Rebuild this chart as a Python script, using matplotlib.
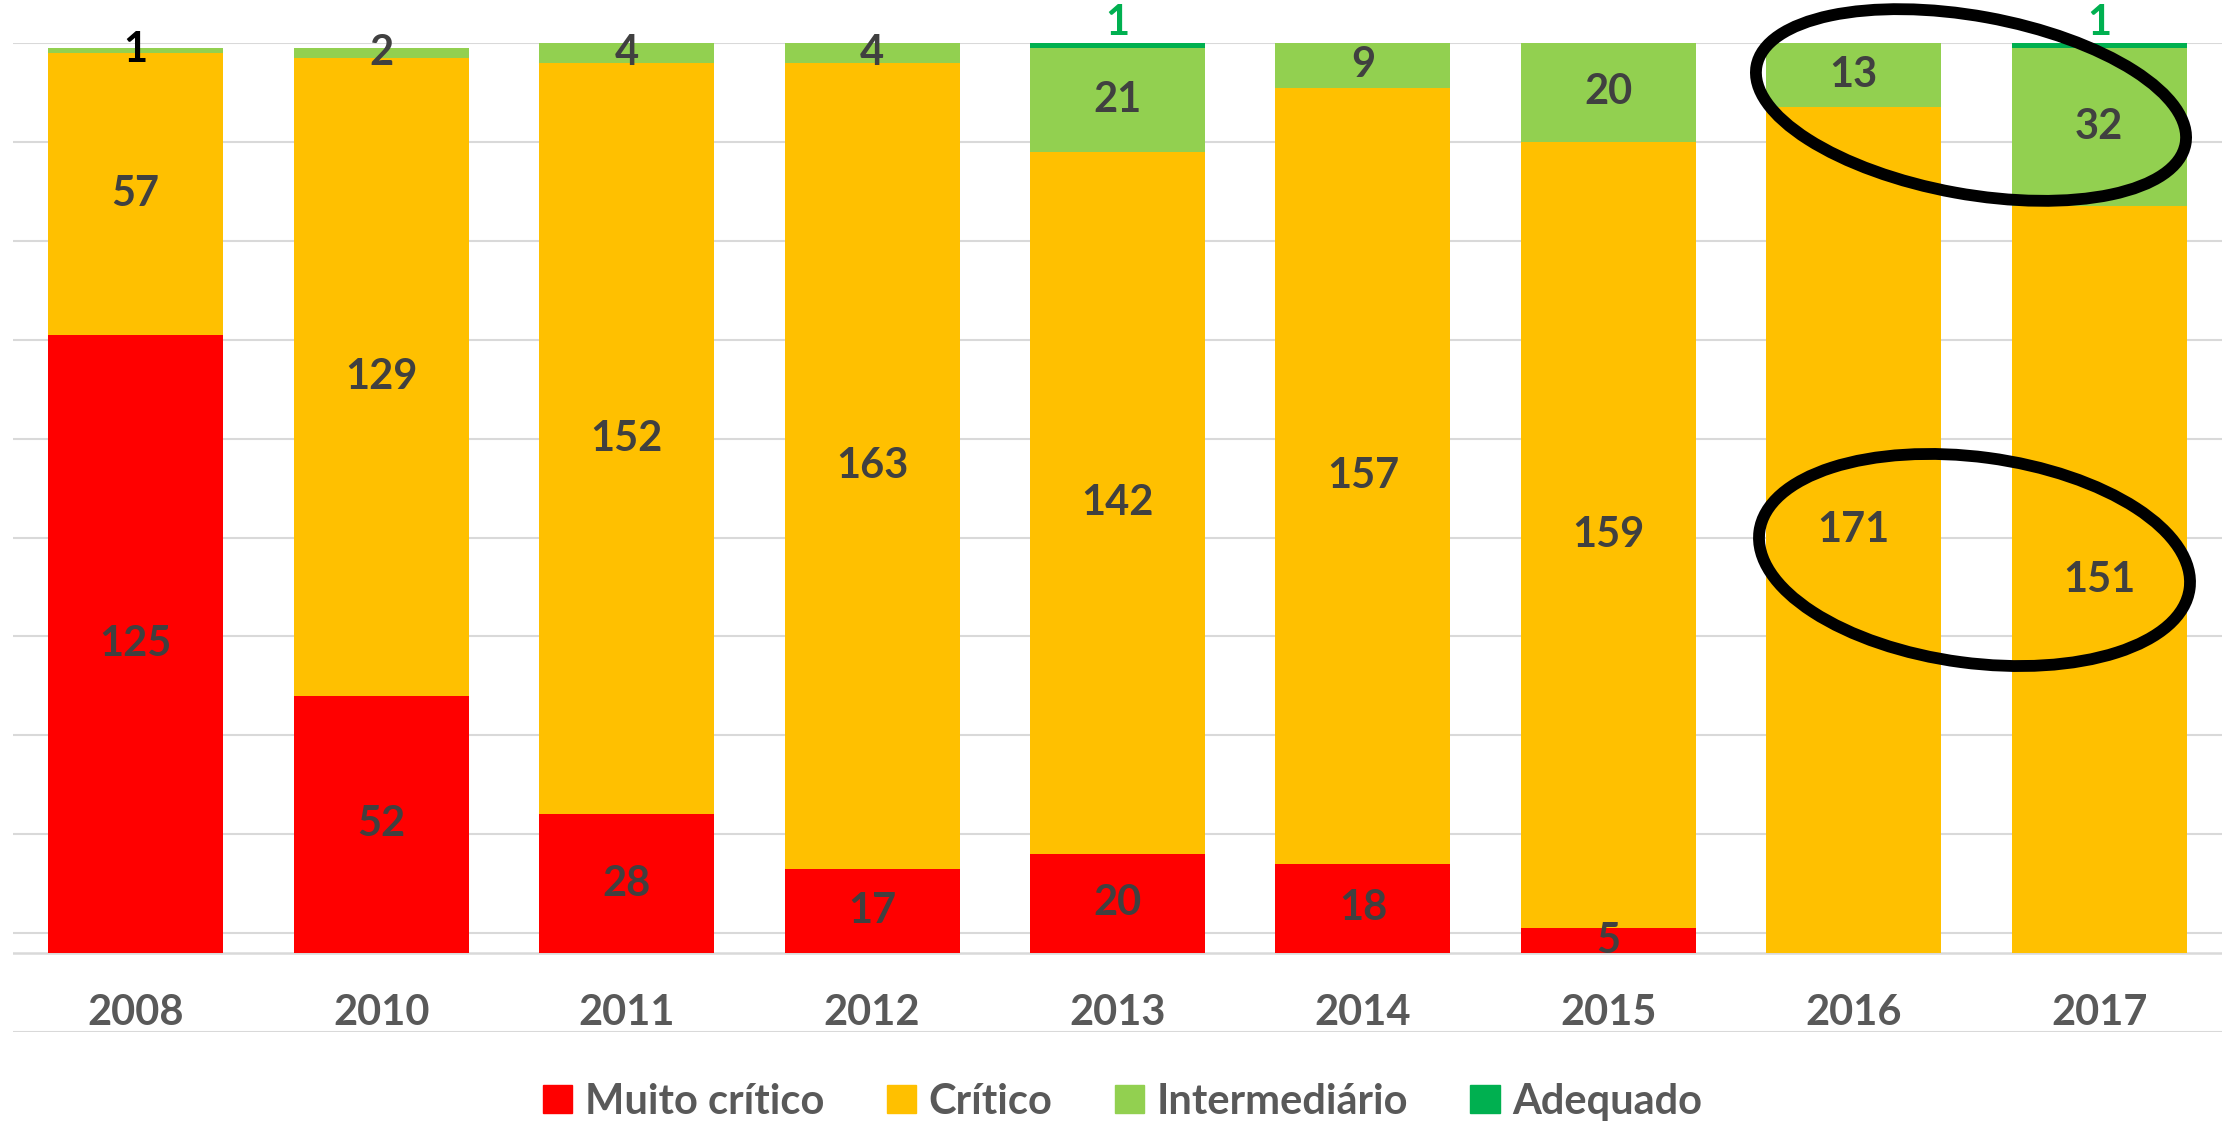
import numpy as np
import matplotlib.pyplot as plt
from matplotlib.patches import Ellipse, Patch

plt.rcParams['font.family'] = ['Lato', 'DejaVu Sans']

# dados
anos = ['2008', '2010', '2011', '2012', '2013', '2014', '2015', '2016', '2017']
muito_critico = [125, 52, 28, 17, 20, 18, 5, 0, 0]
critico = [57, 129, 152, 163, 142, 157, 159, 171, 151]
intermediario = [1, 2, 4, 4, 21, 9, 20, 13, 32]
adequado = [0, 0, 0, 0, 1, 0, 0, 0, 1]

nomes = ['Muito crítico', 'Crítico', 'Intermediário', 'Adequado']
cores = ['#FF0000', '#FFC000', '#92D050', '#00B050']

W, H = 2223, 1127
fig = plt.figure(figsize=(W / 100, H / 100), dpi=100)
ax = fig.add_axes([13 / W, 1 - 1032 / H, (2222 - 13) / W, (1032 - 43) / H])

x = np.arange(len(anos))
series = [muito_critico, critico, intermediario, adequado]
base = np.zeros(len(anos))
for s, cor in zip(series, cores):
    ax.bar(x, s, 0.713, bottom=base, color=cor, zorder=2)
    base = base + np.array(s)

# rotulos de dados
base = np.zeros(len(anos))
for k, s in enumerate(series):
    for i, v in enumerate(s):
        if v == 0:
            continue
        if k == 3:
            ax.text(i, base[i] + v + 0.2, str(v), ha='center', va='bottom',
                    fontsize=30, fontweight='bold', color='#00B050', clip_on=False)
        else:
            cor_txt = 'black' if (k == 2 and i == 0) else '#404040'
            ax.text(i, base[i] + v / 2, str(v), ha='center', va='center',
                    fontsize=30, fontweight='bold', color=cor_txt, zorder=4)
    base = base + np.array(s)

# eixos
ax.set_xlim(-0.5, len(anos) - 0.5)
ax.set_ylim(-16, 184)
ax.set_yticks(np.arange(-16, 185, 20))
ax.set_xticks([])
ax.tick_params(left=False, labelleft=False)
ax.grid(axis='y', color='#D9D9D9', lw=1.5, zorder=0)
for sp in ax.spines.values():
    sp.set_visible(False)
ax.axhline(0, color='#D9D9D9', lw=1.8, zorder=1)
for i, a in enumerate(anos):
    ax.text(i, -12.2, a, ha='center', va='center', fontsize=30,
            fontweight='bold', color='#595959')

# elipses de destaque
fig.add_artist(Ellipse((19.71, (H - 105) / 100), 4.36, 1.78, angle=-10.3,
                       transform=fig.dpi_scale_trans, fill=False,
                       edgecolor='black', lw=8.5, zorder=10))
fig.add_artist(Ellipse((19.745, (H - 560) / 100), 4.34, 2.06, angle=-7.6,
                       transform=fig.dpi_scale_trans, fill=False,
                       edgecolor='black', lw=8.5, zorder=10))

handles = [Patch(color=c, label=n) for n, c in zip(nomes, cores)]
leg = fig.legend(handles=handles, loc='center', bbox_to_anchor=(0.505, 1 - 1102 / H),
                 ncol=4, frameon=False, fontsize=30, handlelength=0.7,
                 handleheight=0.65, handletextpad=0.3, columnspacing=1.5)
for t in leg.get_texts():
    t.set_color('#595959')
    t.set_fontweight('bold')

fig.savefig('out.png', dpi=100)
